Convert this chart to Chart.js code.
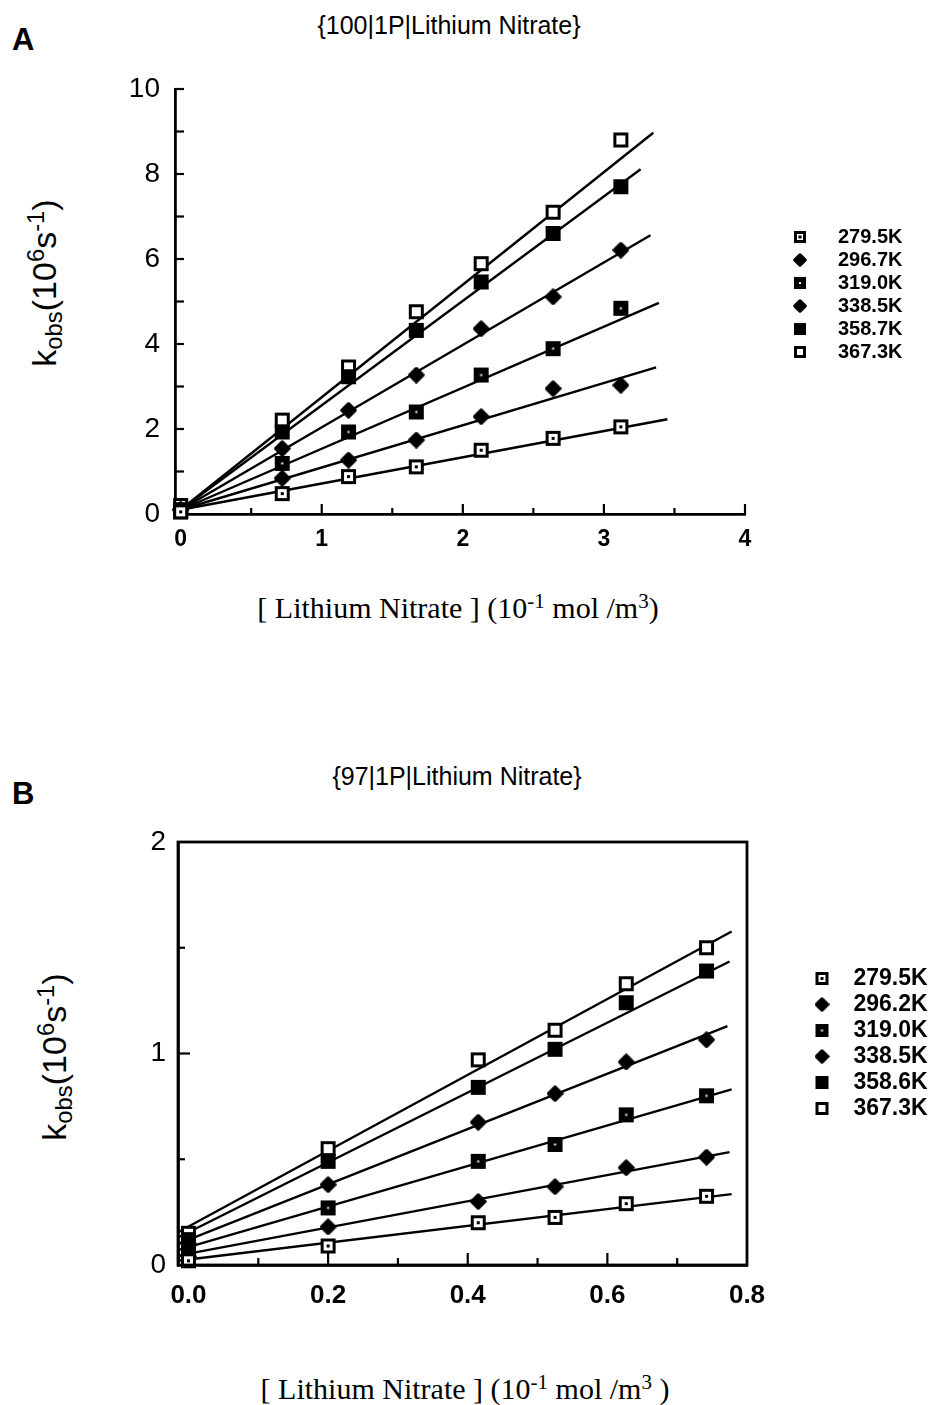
<!DOCTYPE html>
<html><head><meta charset="utf-8">
<script src="https://cdn.jsdelivr.net/npm/chart.js@4.4.1/dist/chart.umd.min.js"></script>
<style>
html,body{margin:0;padding:0;background:#fff;}
body{width:932px;height:1405px;position:relative;overflow:hidden;font-family:"Liberation Sans",Arial,sans-serif;color:#000;}
.t{position:absolute;white-space:nowrap;line-height:1;transform:translate(-50%,-50%);}
.panel{position:absolute;font-weight:bold;font-size:31px;line-height:1;}
.ttl{font-size:25px;}
.xt{font-family:"Liberation Serif","Times New Roman",serif;font-size:30px;}
.yt{font-size:34px;transform:translate(-50%,-50%) rotate(-90deg);}
sup{font-size:70%;vertical-align:0.5em;}
sub{font-size:70%;vertical-align:-0.25em;}
canvas{position:absolute;left:0;}
</style></head>
<body>
<div class="panel" style="left:12px;top:24px;">A</div>
<div class="t ttl" style="left:449px;top:25px;">{100|1P|Lithium Nitrate}</div>
<div class="t yt" style="left:45px;top:283px;">k<sub>obs</sub>(10<sup>6</sup>s<sup>-1</sup>)</div>
<div class="t xt" style="left:458px;top:607px;">[ Lithium Nitrate ] (10<sup>-1</sup> mol /m<sup>3</sup>)</div>
<canvas id="cA" width="932" height="700" style="top:0px;"></canvas>

<div class="panel" style="left:12px;top:778px;">B</div>
<div class="t ttl" style="left:457px;top:776px;">{97|1P|Lithium Nitrate}</div>
<div class="t yt" style="left:55px;top:1057px;">k<sub>obs</sub>(10<sup>6</sup>s<sup>-1</sup>)</div>
<div class="t xt" style="left:465px;top:1388px;">[ Lithium Nitrate ] (10<sup>-1</sup> mol /m<sup>3</sup> )</div>
<canvas id="cB" width="932" height="640" style="top:720px;"></canvas>

<script>
// ---------- Panel A data ----------
const tempsA = ['279.5K','296.7K','319.0K','338.5K','358.7K','367.3K'];
const concA = [0, 0.72, 1.19, 1.67, 2.13, 2.64, 3.12];
const kA_279_5 = [0.05, 0.48, 0.88, 1.11, 1.50, 1.78, 2.05];
const kA_296_7 = [0.10, 0.84, 1.27, 1.74, 2.29, 2.95, 3.03];
const kA_319_0 = [0.10, 1.19, 1.93, 2.40, 3.27, 3.89, 4.84];
const kA_338_5 = [0.10, 1.54, 2.44, 3.27, 4.36, 5.11, 6.21];
const kA_358_7 = [0.05, 1.93, 3.23, 4.32, 5.46, 6.60, 7.70];
const kA_367_3 = [0.20, 2.21, 3.46, 4.76, 5.89, 7.10, 8.80];
const fitA_x0 = [0, 0, 0, 0, 0, 0];
const fitA_y0 = [0.10, 0.10, 0.10, 0.10, 0.10, 0.10];
const fitA_x1 = [3.45, 3.37, 3.39, 3.33, 3.26, 3.35];
const fitA_y1 = [2.23, 3.45, 4.97, 6.56, 8.11, 8.97];
const xTicksA = [0, 1, 2, 3, 4];
const xTickLabelsA = ['0', '1', '2', '3', '4'];
const yTicksA = [0, 2, 4, 6, 8, 10];
const yTickLabelsA = ['0', '2', '4', '6', '8', '10'];
const xMajorMarksA = [1, 2, 3, 4];
const xMinorMarksA = [0.5, 1.5, 2.5, 3.5];
const yMarksA = [1, 2, 3, 4, 5, 6, 7, 8, 9, 10];

// ---------- Panel B data ----------
const tempsB = ['279.5K','296.2K','319.0K','338.5K','358.6K','367.3K'];
const concB = [0, 0.20, 0.415, 0.525, 0.627, 0.742];
const kB_279_5 = [0.02, 0.09, 0.20, 0.225, 0.29, 0.325];
const kB_296_2 = [0.04, 0.18, 0.30, 0.37, 0.46, 0.51];
const kB_319_0 = [0.07, 0.27, 0.49, 0.57, 0.71, 0.80];
const kB_338_5 = [0.10, 0.38, 0.675, 0.81, 0.96, 1.065];
const kB_358_6 = [0.12, 0.49, 0.84, 1.02, 1.24, 1.39];
const kB_367_3 = [0.15, 0.55, 0.97, 1.11, 1.33, 1.50];
const fitB_x0 = [-0.015, -0.015, -0.015, -0.015, -0.015, -0.015];
const fitB_y0 = [0.02, 0.044, 0.07, 0.10, 0.13, 0.155];
const fitB_x1 = [0.778, 0.775, 0.778, 0.772, 0.775, 0.778];
const fitB_y1 = [0.335, 0.534, 0.83, 1.129, 1.435, 1.577];
const xTicksB = [0, 0.2, 0.4, 0.6, 0.8];
const xTickLabelsB = ['0.0', '0.2', '0.4', '0.6', '0.8'];
const yTicksB = [0, 1, 2];
const yTickLabelsB = ['0', '1', '2'];
const xMajorMarksB = [0.2, 0.4, 0.6];
const xMinorMarksB = [0.1, 0.3, 0.5, 0.7];
const yMajorMarksB = [1];
const yMinorMarksB = [0.5, 1.5];

// ---------- marker glyphs ----------
function marker(kind, s) {
  const c = document.createElement('canvas');
  c.width = s; c.height = s;
  const g = c.getContext('2d');
  g.fillStyle = '#000'; g.strokeStyle = '#000';
  if (kind === 'diamond') {
    g.beginPath();
    g.moveTo(s / 2, 2); g.lineTo(s - 2, s / 2); g.lineTo(s / 2, s - 2); g.lineTo(2, s / 2);
    g.closePath(); g.lineJoin = 'round'; g.lineWidth = 3.5; g.fill(); g.stroke();
    return c;
  }
  g.fillRect(1, 1, s - 2, s - 2);
  const b = Math.round(s * 0.26);
  if (kind === 'open') { g.fillStyle = '#fff'; g.fillRect(b, b, s - 2 * b, s - 2 * b); }
  if (kind === 'openDot') { g.fillStyle = '#fff'; g.fillRect(b, b, s - 2 * b, s - 2 * b); g.fillStyle = '#000'; g.fillRect(s / 2 - 1.5, s / 2 - 1.5, 3, 3); }
  if (kind === 'fillDot') { g.fillStyle = '#fff'; g.fillRect(s / 2 - 1, s / 2 - 1, 2, 2); }
  return c;
}
const kinds = ['openDot', 'diamond', 'fillDot', 'diamond', 'fill', 'open'];

Chart.defaults.font.family = '"Liberation Sans", Arial, sans-serif';
Chart.defaults.color = '#000';
Chart.defaults.animation = false;

const innerTicks = {
  id: 'innerTicks',
  afterDraw(chart, args, o) {
    const { ctx, chartArea: a, scales } = chart;
    ctx.save();
    ctx.strokeStyle = '#000'; ctx.lineWidth = 2.2;
    (o.x || []).forEach(t => {
      t.v.forEach(v => {
        const px = scales.x.getPixelForValue(v);
        ctx.beginPath(); ctx.moveTo(px, a.bottom); ctx.lineTo(px, a.bottom - t.len); ctx.stroke();
      });
    });
    (o.y || []).forEach(t => {
      t.v.forEach(v => {
        const py = scales.y.getPixelForValue(v);
        ctx.beginPath(); ctx.moveTo(a.left, py); ctx.lineTo(a.left + t.len, py); ctx.stroke();
      });
    });
    if (o.frame) { ctx.lineWidth = 2.8; ctx.strokeRect(a.left, a.top, a.right - a.left, a.bottom - a.top); }
    ctx.restore();
  }
};
const legendPlace = {
  id: 'legendPlace',
  afterLayout(chart, args, o) {
    const lg = chart.legend;
    if (!lg) return;
    lg.left = o.x; lg.right = o.x + 200; lg.top = o.y; lg.bottom = o.y + 400;
  }
};

function build(id, cfg) {
  const pts = cfg.series.map((ys, i) => ({
    type: 'scatter', label: cfg.temps[i],
    data: cfg.conc.map((x, j) => ({ x: x, y: ys[j] })),
    pointStyle: marker(kinds[i], cfg.ms), pointRadius: 8, pointHoverRadius: 8,
    showLine: false, clip: false, borderColor: '#000', backgroundColor: '#000'
  }));
  const fits = cfg.temps.map((t, i) => ({
    type: 'scatter', label: '',
    data: [{ x: cfg.fx0[i], y: cfg.fy0[i] }, { x: cfg.fx1[i], y: cfg.fy1[i] }],
    showLine: true, pointRadius: 0, borderColor: '#000', borderWidth: 2.4, clip: false
  }));
  const legendMarkers = cfg.temps.map((t, i) => marker(kinds[i], cfg.lms));
  return new Chart(document.getElementById(id), {
    type: 'scatter',
    data: { datasets: pts.concat(fits) },
    options: {
      responsive: false,
      layout: { padding: cfg.pad },
      scales: {
        x: {
          type: 'linear', min: cfg.xmin, max: cfg.xmax,
          afterBuildTicks: s => { s.ticks = cfg.xt.map(v => ({ value: v })); },
          afterFit: s => { s.height = 50; },
          grid: { display: false, drawTicks: false },
          border: { display: true, color: '#000', width: 2.8 },
          ticks: { padding: cfg.xpad, font: cfg.xfont, color: '#000', maxRotation: 0, autoSkip: false,
                   callback: (v, i) => cfg.xl[i] }
        },
        y: {
          type: 'linear', min: cfg.ymin, max: cfg.ymax,
          afterBuildTicks: s => { s.ticks = cfg.yt.map(v => ({ value: v })); },
          afterFit: s => { s.width = 60; },
          grid: { display: false, drawTicks: false },
          border: { display: true, color: '#000', width: 2.8 },
          ticks: { padding: cfg.ypad, font: cfg.yfont, color: '#000', autoSkip: false,
                   callback: (v, i) => cfg.yl[i] }
        }
      },
      plugins: {
        tooltip: { enabled: false },
        title: { display: false },
        legend: {
          display: true, position: 'chartArea', align: 'start',
          labels: {
            usePointStyle: true, pointStyleWidth: cfg.lbw, padding: cfg.lpad,
            font: { size: cfg.lfs, weight: 'bold' }, color: '#000',
            generateLabels: chart => cfg.temps.map((t, i) => ({
              text: t, pointStyle: legendMarkers[i], datasetIndex: i,
              fillStyle: '#000', strokeStyle: '#000', lineWidth: 0, hidden: false, fontColor: '#000'
            }))
          }
        },
        innerTicks: cfg.marks,
        legendPlace: cfg.lpos
      }
    },
    plugins: [innerTicks, legendPlace]
  });
}

build('cA', {
  temps: tempsA, conc: concA,
  series: [kA_279_5, kA_296_7, kA_319_0, kA_338_5, kA_358_7, kA_367_3],
  fx0: fitA_x0, fy0: fitA_y0, fx1: fitA_x1, fy1: fitA_y1,
  ms: 17, lms: 14,
  pad: { left: 115, top: 89, right: 187, bottom: 136 },
  xmin: -0.04, xmax: 4, ymin: 0, ymax: 10,
  xt: xTicksA, xl: xTickLabelsA, yt: yTicksA, yl: yTickLabelsA,
  xpad: 12, ypad: 15,
  xfont: { size: 23, weight: 'bold' }, yfont: { size: 28 },
  lbw: 56, lpad: 3, lfs: 20,
  lpos: { x: 769, y: 224 },
  marks: { x: [{ v: xMajorMarksA, len: 10 }, { v: xMinorMarksA, len: 6 }], y: [{ v: yMarksA, len: 9 }], frame: false }
});

build('cB', {
  temps: tempsB, conc: concB,
  series: [kB_279_5, kB_296_2, kB_319_0, kB_338_5, kB_358_6, kB_367_3],
  fx0: fitB_x0, fy0: fitB_y0, fx1: fitB_x1, fy1: fitB_y1,
  ms: 17, lms: 15,
  pad: { left: 118, top: 122, right: 185, bottom: 45 },
  xmin: -0.015, xmax: 0.8, ymin: 0, ymax: 2,
  xt: xTicksB, xl: xTickLabelsB, yt: yTicksB, yl: yTickLabelsB,
  xpad: 15, ypad: 12,
  xfont: { size: 26, weight: 'bold' }, yfont: { size: 28 },
  lbw: 40, lpad: 3, lfs: 23,
  lpos: { x: 799, y: 244 },
  marks: { x: [{ v: xMajorMarksB, len: 12 }, { v: xMinorMarksB, len: 7 }], y: [{ v: yMajorMarksB, len: 12 }, { v: yMinorMarksB, len: 7 }], frame: true }
});
</script>
</body></html>
